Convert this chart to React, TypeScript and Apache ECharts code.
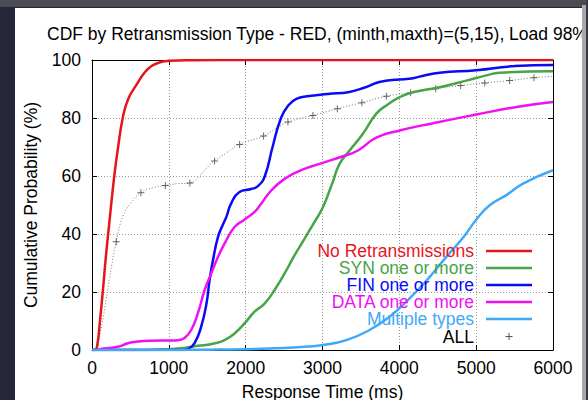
import React, { useEffect, useRef } from "react";
import * as echarts from "echarts";

const TITLE = "CDF by Retransmission Type - RED, (minth,maxth)=(5,15), Load 98%";
const X_NAME = "Response Time (ms)";
const Y_NAME = "Cumulative Probability (%)";

const NAMES = [
  "No Retransmissions",
  "SYN one or more",
  "FIN one or more",
  "DATA one or more",
  "Multiple types",
  "ALL",
];
const COLORS = ["#e8141c", "#47a447", "#0a0af5", "#f010f0", "#3fa9f5", "#000000"];

const NO_RETX: [number, number][] = [
  [0, 0], [40, 0], [70, 2], [100, 9], [140, 20], [180, 32], [230, 45], [290, 60],
  [340, 70], [400, 80], [470, 86.5], [580, 91.5], [680, 95.5], [780, 98], [900, 99.3],
  [1000, 99.7], [1300, 99.9], [2000, 100], [6000, 100],
];
const SYN: [number, number][] = [
  [0, 0], [700, 0], [1000, 0.3], [1200, 0.7], [1335, 1.3], [1500, 1.8], [1600, 2.3],
  [1725, 3.4], [1855, 5.7], [1986, 9.2], [2116, 13.2], [2246, 16], [2376, 20.7],
  [2507, 26.4], [2637, 32.7], [2767, 38.4], [2897, 44.2], [2962, 47], [3027, 50.5],
  [3092, 55], [3135, 58], [3222, 64.2], [3353, 68.8], [3526, 74.6], [3700, 81.5],
  [3830, 84.3], [4004, 87.2], [4177, 88.9], [4525, 90.6], [4872, 92.9], [5133, 94.7],
  [5306, 95.6], [6000, 96.1],
];
const FIN: [number, number][] = [
  [0, 0], [1200, 0], [1250, 0.3], [1335, 2.4], [1420, 8], [1490, 16], [1530, 24],
  [1575, 31], [1640, 39], [1700, 43], [1750, 46], [1810, 50.5], [1920, 54.5],
  [2070, 55.5], [2160, 56.5], [2250, 60], [2350, 70], [2460, 80], [2560, 84.5],
  [2660, 86.6], [2800, 87.5], [3070, 88.3], [3350, 89], [3550, 90.5], [3740, 92.4],
  [4000, 93.3], [4130, 93.5], [4300, 94.5], [4525, 95.6], [5000, 96.5], [5500, 97.9],
  [6000, 98.3],
];
const DATA_RETX: [number, number][] = [
  [0, 0], [33, 0], [150, 0.5], [336, 1.1], [466, 2.3], [597, 2.9], [770, 3.2],
  [1000, 3.3], [1117, 3.4], [1204, 4.1], [1291, 6.9], [1378, 12.7], [1465, 20.6],
  [1552, 26.4], [1638, 32], [1725, 36.7], [1855, 42.4], [1986, 45], [2116, 47.6],
  [2203, 50.5], [2333, 55], [2507, 59], [2723, 62], [2962, 64.2], [3266, 66.8],
  [3461, 68.8], [3700, 73.2], [4004, 75.7], [4438, 78.2], [5003, 81.2], [5523, 83.8],
  [6000, 85.5],
];
const MULTI: [number, number][] = [
  [0, 0], [1000, 0], [1500, 0.1], [2000, 0.3], [2500, 0.7], [2800, 1.2], [3005, 1.7],
  [3310, 3.4], [3613, 6.9], [3874, 11.5], [4134, 17.8], [4395, 25.2], [4612, 32.1],
  [4828, 38.7], [5003, 45], [5176, 49.9], [5393, 53.4], [5610, 57.4], [6000, 62],
];
const ALL_CURVE: [number, number][] = [
  [0, 0], [50, 0], [100, 5], [163, 14], [230, 25], [400, 46], [500, 50.5],
  [800, 56], [1100, 57.3], [1400, 60], [1500, 63], [1750, 68], [2400, 76.5],
  [6000, 94.3],
];
const ALL_MARKERS: [number, number][] = [
  [315, 37.3], [636, 54.2], [955, 56.7], [1274, 57.6], [1595, 65.2], [1921, 70.9],
  [2233, 73.8], [2550, 78.6], [2875, 80.9], [3193, 83.2], [3513, 85.3], [3830, 87.5],
  [4147, 88.7], [4473, 90.1], [4798, 91.2], [5111, 92.1], [5436, 92.9], [5753, 93.9],
];

const LEGEND_ROW_CENTERS = [251, 268, 285, 302, 319, 336.5];
const FONT = "'Liberation Sans', Arial, Helvetica, sans-serif";
const FS = 17.5;
const PLUS = "path://M3,0H4V3H7V4H4V7H3V4H0V3H3Z";

export default function App() {
  const ref = useRef<HTMLDivElement>(null);

  useEffect(() => {
    if (!ref.current) return;
    const chart = echarts.init(ref.current, undefined, { renderer: "svg" });

    const allLine = [...ALL_CURVE, ...ALL_MARKERS].sort((a, b) => a[0] - b[0]);
    const curves = [NO_RETX, SYN, FIN, DATA_RETX, MULTI];

    const lineSeries = curves.map((d, i) => ({
      name: NAMES[i],
      type: "line",
      data: d,
      symbol: "none",
      smooth: 0.5,
      lineStyle: { color: COLORS[i], width: 2.5 },
      itemStyle: { color: COLORS[i] },
      z: 3 + i,
    }));

    // legend drawn as graphic: right-aligned label, then sample line / marker
    const legendGraphics: any[] = [];
    NAMES.forEach((n, i) => {
      const cy = LEGEND_ROW_CENTERS[i];
      legendGraphics.push({
        type: "text",
        x: 474,
        y: cy,
        style: {
          text: n,
          fill: COLORS[i],
          fontSize: FS,
          fontFamily: FONT,
          lineHeight: 15,
          align: "right",
          verticalAlign: "middle",
        },
        z: 100,
      });
      if (i < 5) {
        legendGraphics.push({
          type: "line",
          shape: { x1: 486, y1: cy, x2: 532, y2: cy },
          style: { stroke: COLORS[i], lineWidth: 2.5 },
          z: 100,
        });
      } else {
        legendGraphics.push({
          type: "line",
          shape: { x1: 505.5, y1: cy, x2: 512.5, y2: cy },
          style: { stroke: "#555", lineWidth: 1 },
          z: 100,
        });
        legendGraphics.push({
          type: "line",
          shape: { x1: 509, y1: cy - 3.5, x2: 509, y2: cy + 3.5 },
          style: { stroke: "#555", lineWidth: 1 },
          z: 100,
        });
      }
    });

    const axisCommonX = {
      type: "value",
      min: 0,
      max: 6000,
      interval: 1000,
      axisLine: { show: true, onZero: false, lineStyle: { color: "#000", width: 1 } },
      axisTick: { show: true, inside: true, length: 5, lineStyle: { color: "#000" } },
    };
    const axisCommonY = {
      type: "value",
      min: 0,
      max: 100,
      interval: 20,
      axisLine: { show: true, onZero: false, lineStyle: { color: "#000", width: 1 } },
      axisTick: { show: true, inside: true, length: 5, lineStyle: { color: "#000" } },
    };

    chart.setOption({
      animation: false,
      backgroundColor: "transparent",
      textStyle: { fontFamily: FONT },
      title: {
        text: TITLE,
        left: 47,
        top: 25,
        padding: 0,
        textStyle: { fontSize: FS, fontWeight: "normal", color: "#000", fontFamily: FONT },
      },
      graphic: legendGraphics,
      grid: {
        left: 92,
        top: 60,
        width: 461,
        height: 290,
        containLabel: false,
        outerBoundsMode: "none",
      },
      xAxis: [
        {
          ...axisCommonX,
          position: "bottom",
          name: X_NAME,
          nameLocation: "middle",
          nameGap: 33,
          nameTextStyle: { fontSize: FS, color: "#000", fontFamily: FONT },
          axisLabel: {
            color: "#000",
            fontSize: FS,
            margin: 9,
            fontFamily: FONT,
            formatter: (v: number) => String(v),
          },
          splitLine: { show: true, lineStyle: { color: "#999", type: [1, 2], width: 1 } },
        },
        {
          ...axisCommonX,
          position: "top",
          axisLabel: { show: false },
          splitLine: { show: false },
        },
      ],
      yAxis: [
        {
          ...axisCommonY,
          position: "left",
          name: Y_NAME,
          nameLocation: "middle",
          nameGap: 52,
          nameTextStyle: { fontSize: FS, color: "#000", fontFamily: FONT },
          axisLabel: {
            color: "#000",
            fontSize: FS,
            margin: 11,
            fontFamily: FONT,
            formatter: (v: number) => String(v),
          },
          splitLine: { show: true, lineStyle: { color: "#999", type: [1, 2], width: 1 } },
        },
        {
          ...axisCommonY,
          position: "right",
          axisLabel: { show: false },
          splitLine: { show: false },
        },
      ],
      series: [
        {
          name: "ALL",
          type: "line",
          data: allLine,
          symbol: "none",
          smooth: 0.5,
          lineStyle: { color: "#777", width: 1, type: [1, 2] },
          itemStyle: { color: "#555" },
          z: 2,
        },
        {
          name: "ALL",
          type: "scatter",
          data: ALL_MARKERS,
          symbol: PLUS,
          symbolSize: 7,
          itemStyle: { color: "#444" },
          z: 2,
        },
        ...lineSeries,
      ],
    });

    return () => chart.dispose();
  }, []);

  return (
    <div
      style={{
        position: "fixed",
        left: 0,
        top: 0,
        width: 588,
        height: 400,
        background: "#26263b",
        overflow: "hidden",
      }}
    >
      <div style={{ position: "absolute", left: 0, top: 0, width: 588, height: 7, background: "#4b4b52" }} />
      <div style={{ position: "absolute", left: 15, top: 8, width: 567, height: 392, background: "#ffffff" }} />
      <div ref={ref} style={{ position: "absolute", left: 0, top: 0, width: 588, height: 400 }} />
      <div
        style={{
          position: "absolute",
          left: 582,
          top: 5,
          width: 4,
          height: 395,
          background: "#a9a9a9",
          zIndex: 5,
        }}
      />
      <div
        style={{
          position: "absolute",
          left: 586,
          top: 0,
          width: 2,
          height: 400,
          background: "#3a3a44",
          zIndex: 5,
        }}
      />
    </div>
  );
}
